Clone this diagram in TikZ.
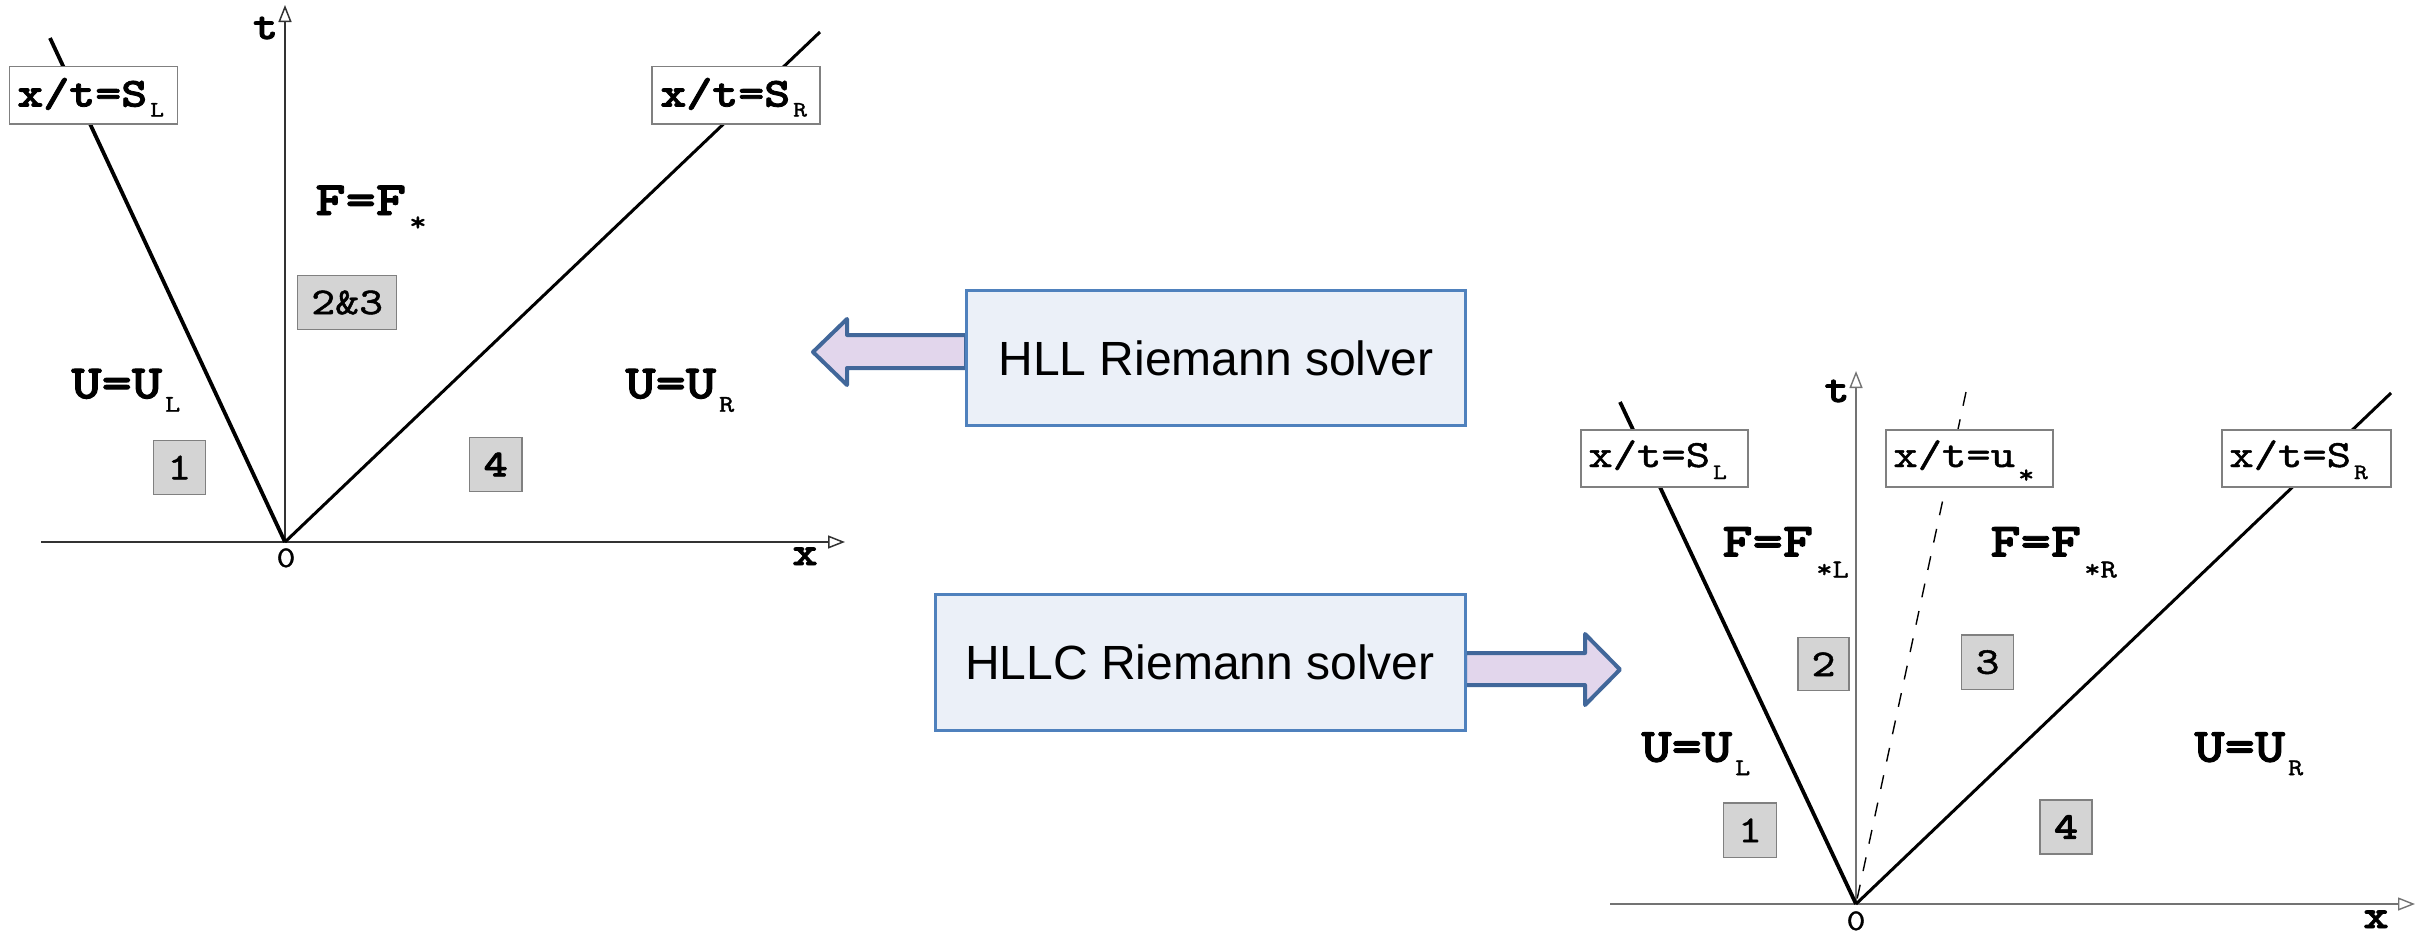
\documentclass[tikz,border=0pt]{standalone}
\usepackage{fontspec}
\usetikzlibrary{arrows.meta}
\newfontfamily\cour{lmmono10-regular}[Extension=.otf, BoldFont=lmmonolt10-bold, BoldFeatures={FakeBold=2}, FakeStretch=1.2]
\newfontfamily\courmid{lmmono10-regular}[Extension=.otf, FakeBold=1.2, FakeStretch=1.2]
\newfontfamily\arial{Liberation Sans}
\newcommand\fsz[1]{\fontsize{#1}{#1}\selectfont}
\newcommand\lowr[3]{\hspace{1.5pt}\raisebox{-#1}{\courmid\fsz{#2}#3}}
\definecolor{boxfill}{RGB}{235,240,248}
\definecolor{boxdraw}{RGB}{79,129,189}
\definecolor{arrfill}{RGB}{226,214,236}
\definecolor{arrdraw}{RGB}{65,103,154}
\definecolor{numfill}{RGB}{212,212,212}
\definecolor{grayline}{RGB}{128,128,128}
\begin{document}
\begin{tikzpicture}[x=0.5pt,y=-0.5pt,
  axisL/.style={line width=0.75pt, draw=black!80, -{Triangle[open,length=8.5pt,width=6.5pt]}},
  axisR/.style={line width=0.7pt, draw=black!55, -{Triangle[open,length=8.5pt,width=6.5pt]}},
  waveL/.style={line width=1.9pt},
  waveR/.style={line width=1.5pt},
  contact/.style={line width=0.7pt, dash pattern=on 7pt off 7pt},
  labbox/.style={draw=grayline, fill=white, line width=0.75pt, inner sep=0pt},
  numbox/.style={draw=grayline, fill=numfill, line width=0.75pt, inner sep=0pt, font=\courmid\fsz{19}},
  big/.style={inner sep=0pt, anchor=base west, font=\cour\bfseries\fsz{24}},
  tagL/.style={inner sep=0pt, anchor=base west, font=\cour\bfseries\fsz{20.6}},
  tagR/.style={inner sep=0pt, anchor=base west, font=\courmid\fsz{19.3}},
  axlab/.style={inner sep=0pt, anchor=base, font=\cour\bfseries\fsz{20}},
  zero/.style={inner sep=0pt, anchor=base, font=\courmid\fsz{15}},
  solver/.style={draw=boxdraw, fill=boxfill, line width=1.5pt, inner sep=0pt, font=\arial\fsz{24}},
  blockarrow/.style={draw=arrdraw, fill=arrfill, line width=2pt, line join=round}
]
\useasboundingbox (0,0) rectangle (2425,932);

% ---------------- left diagram (HLL) ----------------
\coordinate (O1) at (285,542);
\coordinate (T1) at (285,5);
\coordinate (X1a) at (41,542);
\coordinate (X1b) at (845,542);
\coordinate (L1) at (50,38);
\coordinate (R1) at (820,32);
\draw[axisL] (O1) -- (T1);
\draw[axisL] (X1a) -- (X1b);
\draw[waveL] (O1) -- (L1);
\draw[waveR] (O1) -- (R1);

\node[labbox, minimum width=84pt, minimum height=28.65pt] (bSL1) at (93.3,95.35) {};
\node[tagL] (tSL1) at (17,106.5) {x/t=S\lowr{5pt}{11}{L}};
\node[labbox, minimum width=84pt, minimum height=28.65pt] (bSR1) at (736,95.35) {};
\node[tagL] (tSR1) at (660,106.5) {x/t=S\lowr{5pt}{11}{R}};

\node[big] (F1) at (315,215) {F=F\lowr{8pt}{14}{*}};
\node[numbox, minimum width=49.5pt, minimum height=26.8pt] (n23) at (347.2,302.5) {2\&3};
\node[big] (UL1) at (71,398.3) {U=U\lowr{6.7pt}{12}{L}};
\node[big] (UR1) at (625,398.3) {U=U\lowr{6.7pt}{12}{R}};
\node[numbox, minimum width=26pt, minimum height=26.8pt] (n1a) at (179.3,467.5) {1};
\node[numbox, minimum width=26.35pt, minimum height=27.2pt, font=\cour\bfseries\fsz{19}] (n4a) at (495.65,464.5) {4};

\node[axlab] (tl1) at (265.5,39) {t};
\node[axlab] (xl1) at (805,565) {x};
\node[zero] (z1) at (286,567) {0};

% ---------------- right diagram (HLLC) ----------------
\coordinate (O2) at (1856,904);
\coordinate (T2) at (1856,371);
\coordinate (X2a) at (1610,904);
\coordinate (X2b) at (2415,904);
\coordinate (L2) at (1620,402);
\coordinate (R2) at (2391,393);
\coordinate (C2) at (1966,392);
\draw[axisR] (O2) -- (T2);
\draw[axisR] (X2a) -- (X2b);
\draw[contact] (C2) -- (O2);
\draw[waveL] (O2) -- (L2);
\draw[waveR] (O2) -- (R2);

\node[labbox, minimum width=83.5pt, minimum height=28.5pt] (bSL2) at (1664.5,458.5) {};
\node[tagR] (tSL2) at (1588,467) {x/t=S\lowr{6pt}{11}{L}};
\node[labbox, minimum width=83.5pt, minimum height=28.5pt] (bU2) at (1969.5,458.5) {};
\node[tagR] (tU2) at (1893,467) {x/t=u\lowr{8pt}{13}{*}};
\node[labbox, minimum width=84.5pt, minimum height=28.5pt] (bSR2) at (2306.5,458.5) {};
\node[tagR] (tSR2) at (2229,467) {x/t=S\lowr{6pt}{11}{R}};

\node[big] (FL2) at (1722,556.5) {F=F\lowr{10.5pt}{13}{*L}};
\node[big] (FR2) at (1990,556.5) {F=F\lowr{10.5pt}{13}{*R}};
\node[numbox, minimum width=25.5pt, minimum height=26.5pt] (n2b) at (1823.5,664.2) {2};
\node[numbox, minimum width=25.8pt, minimum height=27.15pt] (n3b) at (1987.5,662.2) {3};
\node[big] (UL2) at (1641,761.7) {U=U\lowr{6.7pt}{12}{L}};
\node[big] (UR2) at (2194,761.7) {U=U\lowr{6.7pt}{12}{R}};
\node[numbox, minimum width=26.3pt, minimum height=27.35pt] (n1b) at (1750,830.35) {1};
\node[numbox, minimum width=26pt, minimum height=27pt, font=\cour\bfseries\fsz{19}] (n4b) at (2066,827) {4};

\node[axlab] (tl2) at (1837,402) {t};
\node[axlab] (xl2) at (2376,928) {x};
\node[zero] (z2) at (1856,930) {0};

% ---------------- solver boxes and block arrows ----------------
\draw[blockarrow] (966,335) -- (847,335) -- (847,319) -- (813,352) -- (847,385) -- (847,368) -- (966,368) -- cycle;
\draw[blockarrow] (1465,653) -- (1585,653) -- (1585,634) -- (1620,669.5) -- (1585,705) -- (1585,685) -- (1465,685) -- cycle;
\node[solver, minimum width=249.2pt, minimum height=67.25pt] (hll) at (1215.8,358) {HLL Riemann solver};
\node[solver, minimum width=265pt, minimum height=68pt] (hllc) at (1200,662) {HLLC Riemann solver};
\end{tikzpicture}
\end{document}
